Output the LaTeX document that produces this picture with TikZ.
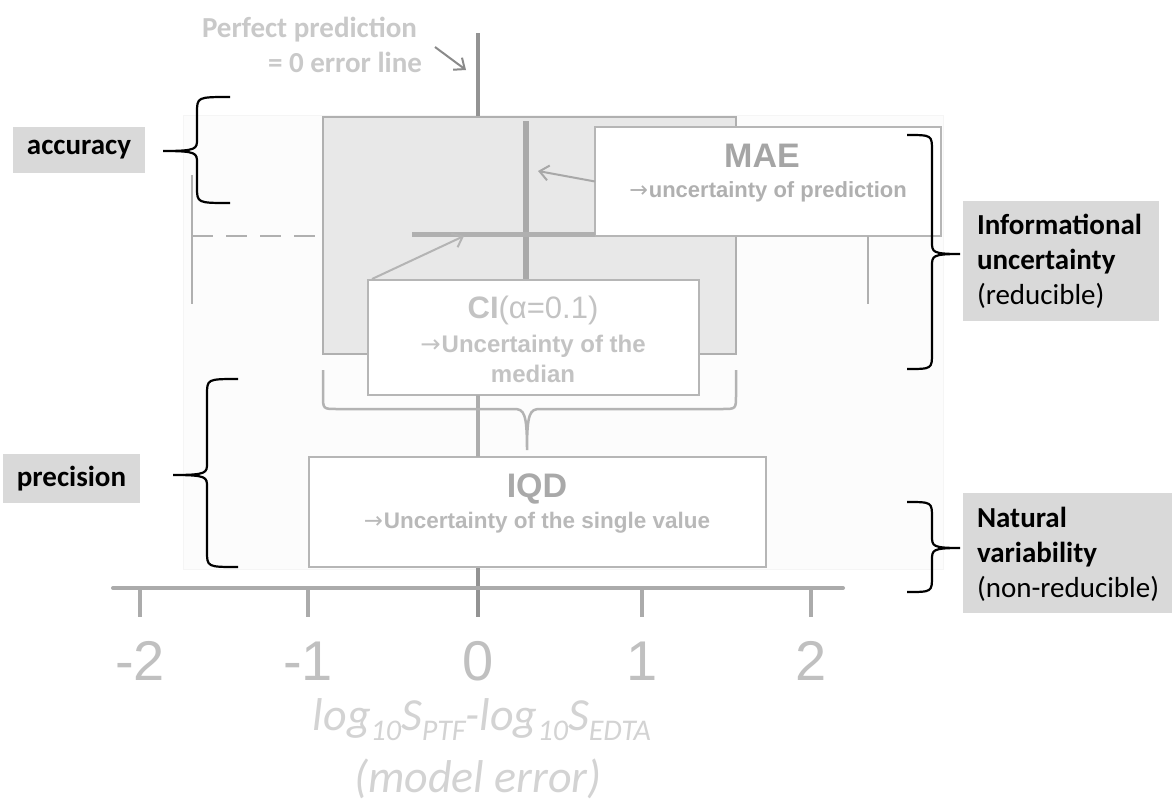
\documentclass[tikz,border=0pt]{standalone}
\usepackage{graphicx}
\usepackage{fontspec}
\setmainfont{Carlito}
\newfontfamily\arialfont{Liberation Sans}
\newfontfamily\arrowfont{DejaVu Sans}
\usetikzlibrary{arrows.meta,calc}
\definecolor{bgfaint}{HTML}{FCFCFC}
\definecolor{bgedge}{HTML}{F5F5F5}
\definecolor{boxfill}{HTML}{E8E8E8}
\definecolor{boxline}{HTML}{B0B0B0}
\definecolor{frameline}{HTML}{B6B6B6}
\definecolor{zeroline}{HTML}{939393}
\definecolor{midline}{HTML}{ADADAD}
\definecolor{medgray}{HTML}{A9A9A9}
\definecolor{axisgray}{HTML}{ABABAB}
\definecolor{tagfill}{HTML}{D9D9D9}
\definecolor{pptext}{HTML}{C9C9C9}
\definecolor{arrowdark}{HTML}{8A8A8A}
\definecolor{arrowlight}{HTML}{A8A8A8}
\definecolor{arrowci}{HTML}{B4B4B4}
\definecolor{maetitle}{HTML}{A5A5A5}
\definecolor{maesub}{HTML}{B0B0B0}
\definecolor{citext}{HTML}{C3C3C3}
\definecolor{iqdtitle}{HTML}{A9A9A9}
\definecolor{iqdsub}{HTML}{B9B9B9}
\definecolor{digitgray}{HTML}{C0C0C0}
\definecolor{axlabel}{HTML}{D3D3D3}
\definecolor{bracegray}{HTML}{B3B3B3}
\newcommand\axsub[1]{\raisebox{-0.22em}{\fontsize{30}{30}\selectfont #1}}
\newcommand\rarr{\resizebox{0.85em}{!}{\arrowfont\mdseries →}\kern0.04em}
\newcommand\drawBraceV[6]{% #1 end x, #2 spine x, #3 tip x, #4 top y, #5 tip y, #6 bottom y
  \draw[brace] (#1,#4) .. controls (#2,#4) and (#2,#4) .. (#2,{#4+16})
    -- (#2,{#5-12}) .. controls (#2,{#5-2}) and (#2,#5) .. (#3,#5)
    .. controls (#2,#5) and (#2,{#5+2}) .. (#2,{#5+12})
    -- (#2,{#6-16}) .. controls (#2,#6) and (#2,#6) .. (#1,#6);}
\begin{document}
\begin{tikzpicture}[x=1pt,y=-1pt,
  every node/.style={inner sep=0pt,outer sep=0pt},
  plotbox/.style={draw=frameline,line width=2.5pt,fill=white,anchor=north west},
  tagbox/.style={fill=tagfill,anchor=north west,font=\fontsize{29}{35}\selectfont\bfseries},
  tagline/.style={anchor=base west,font=\fontsize{29}{35}\selectfont},
  brace/.style={draw=black,line width=2.2pt},
  gbrace/.style={draw=bracegray,line width=2.5pt},
  ptr/.style={line width=2pt,-{Straight Barb[length=9pt,width=15pt]}},
  whisker/.style={draw=boxline,line width=2.5pt},
  ppstyle/.style={text=pptext,font=\fontsize{29}{35}\selectfont\bfseries,anchor=base east},
  digit/.style={text=digitgray,font=\arialfont\fontsize{56}{56}\selectfont,anchor=base},
  axtext/.style={text=axlabel,font=\fontsize{46}{56}\selectfont\itshape,anchor=base}
]
\useasboundingbox (0,0) rectangle (1174,809);
\fill[white] (0,0) rectangle (1174,809);
% faint plot area
\filldraw[fill=bgfaint,draw=bgedge,line width=0.6pt] (183,115) rectangle (943,569);
% zero error line
\coordinate (zt) at (478,33);
\coordinate (zb) at (478,617);
\draw[draw=zeroline,line width=3.5pt] (zt) -- (zb);
% box of quartiles
\node[plotbox,fill=boxfill,draw=boxline,minimum width=413pt,minimum height=237pt] (gbox) at (323,117) {};
% whiskers
\coordinate (lwt) at (192,175);
\coordinate (lwb) at (192,304);
\coordinate (lwm) at (192,236);
\draw[whisker] (lwt) -- (lwb);
\draw[whisker,dash pattern=on 21pt off 13pt] (lwm) -- (lwm -| gbox.west);
% MAE box
\node[plotbox,minimum width=346pt,minimum height=109pt] (mae) at (595,127) {};
\node[text=maetitle,font=\arialfont\fontsize{34}{34}\selectfont\bfseries,anchor=base] (maet) at (762,167) {MAE};
\node[text=maesub,font=\arialfont\fontsize{22}{22}\selectfont\bfseries,anchor=base] (maes) at (768,197) {\rarr uncertainty of prediction};
\coordinate (rwt) at (868,236);
\coordinate (rwb) at (868,304);
\draw[whisker] (rwt) -- (rwb);
% median and CI bar
\coordinate (medtop) at (526,121);
\coordinate (cil) at (412,234);
\draw[draw=medgray,line width=6pt] (medtop) -- (526,290);
\draw[draw=boxline,line width=5pt] (cil) -- (cil -| mae.west);
\coordinate (medarrow) at (538,171);
\draw[ptr,draw=arrowlight] (mae.west) -- (medarrow);
% CI box
\node[plotbox,minimum width=331pt,minimum height=115pt] (ci) at (368,280) {};
\node[text=citext,font=\arialfont\fontsize{31}{31}\selectfont,anchor=base] (cit) at (533,318) {\textbf{CI}(α=0.1)};
\node[text=citext,font=\arialfont\fontsize{24}{24}\selectfont\bfseries,anchor=base] (cis1) at (533,352) {\rarr Uncertainty of the};
\node[text=citext,font=\arialfont\fontsize{24}{24}\selectfont\bfseries,anchor=base] (cis2) at (533,382) {median};
\coordinate (ciarrow) at (464,236);
\draw[ptr,draw=arrowci] ($(ci.north west)+(4,-1)$) -- (ciarrow);
% IQD box
\node[plotbox,minimum width=457pt,minimum height=110pt] (iqd) at (309,457) {};
\draw[draw=midline,line width=3.5pt] (ci.south -| zt) -- (iqd.north -| zt);
\draw[gbrace] (323,370) -- (323,395) .. controls (323,409) and (323,409) .. (337,409)
  -- (514,409) .. controls (524,409) and (527,413) .. (527,450)
  .. controls (527,413) and (530,409) .. (540,409)
  -- (722,409) .. controls (736,409) and (736,409) .. (736,395) -- (736,370);
\node[text=iqdtitle,font=\arialfont\fontsize{34}{34}\selectfont\bfseries,anchor=base] (iqdt) at (537,497) {IQD};
\node[text=iqdsub,font=\arialfont\fontsize{22.5}{23}\selectfont\bfseries,anchor=base] (iqds) at (537,528) {\rarr Uncertainty of the single value};
% axis
\coordinate (axl) at (113,588);
\coordinate (axr) at (843,588);
\draw[draw=axisgray,line width=4pt,line cap=round] (axl) -- (axr);
\foreach \x/\l/\n in {140/-2/a,308/-1/b,642/1/d,811/2/e}{
  \draw[draw=axisgray,line width=3.5pt] (\x,588) -- (\x,617);
  \node[digit] (tick\n) at (\x,680) {\l};
}
\node[digit] (tickc) at (478,680) {0};
\node[axtext] (axl1) at (482,730) {log\axsub{10}S\axsub{PTF}-log\axsub{10}S\axsub{EDTA}};
\node[axtext] (axl2) at (478,792) {(model error)};
% perfect prediction annotation
\node[ppstyle] (pp1) at (417,37) {Perfect prediction};
\node[ppstyle] (pp2) at (422,72) {= 0 error line};
\coordinate (ppa) at (435,47);
\coordinate (ppb) at (466,70);
\draw[ptr,draw=arrowdark] (ppa) -- (ppb);
% tag boxes
\node[tagbox,minimum width=132pt,minimum height=46pt] (acc) at (13,127) {accuracy};
\node[tagbox,minimum width=137pt,minimum height=49pt] (prec) at (3,454) {precision};
\node[fill=tagfill,anchor=north west,minimum width=196pt,minimum height=120pt] (info) at (963,201) {};
\node[tagline,font=\fontsize{29}{35}\selectfont\bfseries] (info1) at (977,234) {Informational};
\node[tagline,font=\fontsize{29}{35}\selectfont\bfseries] (info2) at (977,269) {uncertainty};
\node[tagline] (info3) at (977,304) {(reducible)};
\node[fill=tagfill,anchor=north west,minimum width=209pt,minimum height=120pt] (nat) at (963,493) {};
\node[tagline,font=\fontsize{29}{35}\selectfont\bfseries] (nat1) at (977,527) {Natural};
\node[tagline,font=\fontsize{29}{35}\selectfont\bfseries] (nat2) at (977,562) {variability};
\node[tagline] (nat3) at (977,597) {(non-reducible)};
% braces
\drawBraceV{230}{197}{163}{97}{151}{203}
\drawBraceV{238}{207}{173}{379}{475}{567}
\drawBraceV{907}{932}{960}{135}{254}{369}
\drawBraceV{907}{932}{960}{502}{548}{592}
\end{tikzpicture}
\end{document}
